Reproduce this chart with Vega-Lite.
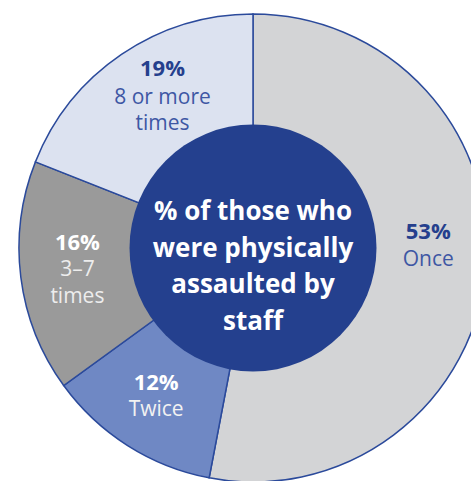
{
  "$schema": "https://vega.github.io/schema/vega-lite/v6.json",
  "width": 436,
  "height": 466,
  "padding": {"left": 35, "top": 15, "right": 0, "bottom": 0},
  "autosize": {"type": "none"},
  "background": "white",
  "config": {"view": {"stroke": null}, "text": {"font": "Open Sans"}},
  "data": {
    "values": [
      {"cat": "Once", "ord": 1, "pct": 53, "pctLabel": "53%", "label": "Once"},
      {"cat": "Twice", "ord": 2, "pct": 12, "pctLabel": "12%", "label": "Twice"},
      {"cat": "3–7 times", "ord": 3, "pct": 16, "pctLabel": "16%", "label": "3–7\ntimes"},
      {"cat": "8 or more times", "ord": 4, "pct": 19, "pctLabel": "19%", "label": "8 or more\ntimes"}
    ]
  },
  "encoding": {
    "theta": {"field": "pct", "type": "quantitative", "stack": true},
    "order": {"field": "ord", "type": "quantitative"}
  },
  "layer": [
    {
      "mark": {"type": "arc", "radius": 234, "stroke": "#2B4A9B", "strokeWidth": 1.5},
      "encoding": {
        "color": {
          "field": "cat",
          "type": "nominal",
          "scale": {
            "domain": ["Once", "Twice", "3–7 times", "8 or more times"],
            "range": ["#D3D4D6", "#6F88C4", "#9A9A9A", "#DCE2F0"]
          },
          "legend": null
        }
      }
    },
    {
      "data": {"values": [{"v": 1, "centre": "% of those who\nwere physically\nassaulted by\nstaff"}]},
      "mark": {"type": "arc", "radius": 123.5, "fill": "#24408E"},
      "encoding": {
        "theta": {"field": "v", "type": "quantitative"},
        "order": null
      }
    },
    {
      "data": {"values": [{"v": 1, "centre": "% of those who\nwere physically\nassaulted by\nstaff"}]},
      "mark": {"type": "text", "fill": "white", "fontWeight": "bold", "fontSize": 26, "lineBreak": "\n", "lineHeight": 36.5, "align": "center", "baseline": "middle", "dy": -36},
      "encoding": {
        "theta": null,
        "order": null,
        "text": {"field": "centre", "type": "nominal"}
      }
    },
    {
      "mark": {"type": "text", "radius": 177, "fill": "#253F8D", "fontWeight": "bold", "fontSize": 22, "align": "center", "baseline": "middle", "dy": -33, "dx": -1},
      "encoding": {"text": {"condition": {"test": "datum.cat === 'Once'", "field": "pctLabel", "type": "nominal"}, "value": ""}}
    },
    {
      "mark": {"type": "text", "radius": 177, "fill": "#3E57A4", "fontSize": 21, "align": "center", "baseline": "top", "dy": -16, "dx": -1},
      "encoding": {"text": {"condition": {"test": "datum.cat === 'Once'", "field": "label", "type": "nominal"}, "value": ""}}
    },
    {
      "mark": {"type": "text", "radius": 177, "fill": "#253F8D", "fontWeight": "bold", "fontSize": 22, "align": "center", "baseline": "middle", "dy": -33, "dx": 9},
      "encoding": {"text": {"condition": {"test": "datum.cat === '8 or more times'", "field": "pctLabel", "type": "nominal"}, "value": ""}}
    },
    {
      "mark": {"type": "text", "radius": 177, "fill": "#3E57A4", "fontSize": 21, "lineBreak": "\n", "lineHeight": 26, "align": "center", "baseline": "top", "dy": -15, "dx": 9},
      "encoding": {"text": {"condition": {"test": "datum.cat === '8 or more times'", "field": "label", "type": "nominal"}, "value": ""}}
    },
    {
      "mark": {"type": "text", "radius": 177, "fill": "white", "fontWeight": "bold", "fontSize": 22, "align": "center", "baseline": "middle", "dy": -27},
      "encoding": {"text": {"condition": {"test": "datum.cat === '3–7 times'", "field": "pctLabel", "type": "nominal"}, "value": ""}}
    },
    {
      "mark": {"type": "text", "radius": 177, "fill": "#EDEDED", "fontSize": 21, "lineBreak": "\n", "lineHeight": 27, "align": "center", "baseline": "top", "dy": -11},
      "encoding": {"text": {"condition": {"test": "datum.cat === '3–7 times'", "field": "label", "type": "nominal"}, "value": ""}}
    },
    {
      "mark": {"type": "text", "radius": 177, "fill": "white", "fontWeight": "bold", "fontSize": 22, "align": "center", "baseline": "middle", "dy": -14, "dx": -2},
      "encoding": {"text": {"condition": {"test": "datum.cat === 'Twice'", "field": "pctLabel", "type": "nominal"}, "value": ""}}
    },
    {
      "mark": {"type": "text", "radius": 177, "fill": "#F2F2F2", "fontSize": 21, "align": "center", "baseline": "middle", "dy": 13, "dx": -2},
      "encoding": {"text": {"condition": {"test": "datum.cat === 'Twice'", "field": "label", "type": "nominal"}, "value": ""}}
    }
  ],
  "resolve": {"scale": {"theta": "independent"}}
}
